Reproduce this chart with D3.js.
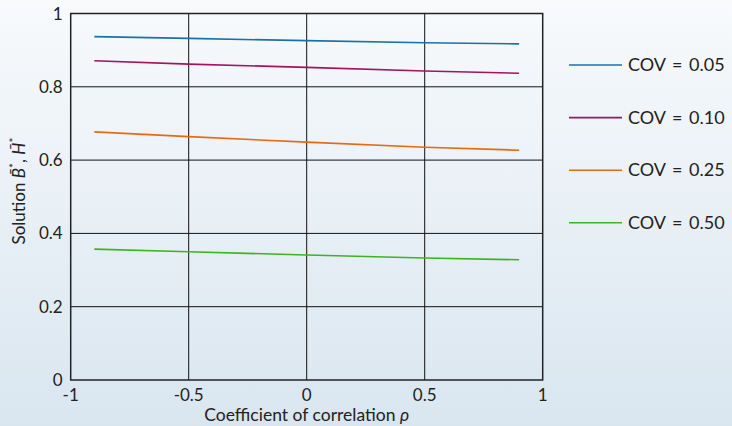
<!DOCTYPE html>
<html>
<head>
<meta charset="utf-8">
<script src="https://cdn.jsdelivr.net/npm/d3@7"></script>
<style>
  body { margin: 0; }
  svg text { font-family: Lato, "DejaVu Sans", sans-serif; fill: #222; }
</style>
</head>
<body>
<div id="chart"></div>
<script>
// Data
var rho = [-0.9, -0.5, 0, 0.5, 0.9];
var cov005 = [0.937, 0.932, 0.926, 0.920, 0.917];
var cov010 = [0.871, 0.862, 0.853, 0.843, 0.837];
var cov025 = [0.677, 0.664, 0.649, 0.635, 0.627];
var cov050 = [0.357, 0.350, 0.341, 0.333, 0.328];
var seriesNames = ["COV = 0.05", "COV = 0.10", "COV = 0.25", "COV = 0.50"];
var seriesColors = ["#1c70a8", "#a3135f", "#e8690e", "#3db41f"];
var xTicks = [-1, -0.5, 0, 0.5, 1];
var yTicks = [0, 0.2, 0.4, 0.6, 0.8, 1];

var svgWidth = 732;
var svgHeight = 426;
var margin = { top: 13.5, left: 70.7, right: 190, bottom: 46 };
var chartWidth = 542.7 - margin.left;
var chartHeight = 380 - margin.top;

var svg = d3.select("#chart")
    .append("svg")
    .attr("width", svgWidth)
    .attr("height", svgHeight);

// Background gradient
var grad = svg.append("defs").append("linearGradient")
    .attr("id", "bg")
    .attr("x1", 0).attr("y1", 0).attr("x2", 0).attr("y2", 1);
grad.append("stop").attr("offset", "0%").attr("stop-color", "#f8fafc");
grad.append("stop").attr("offset", "100%").attr("stop-color", "#d9e6f0");
svg.append("rect")
    .attr("width", svgWidth)
    .attr("height", svgHeight)
    .attr("fill", "url(#bg)");

var chartGroup = svg.append("g")
    .attr("transform", `translate(${margin.left}, ${margin.top})`);

var xScale = d3.scaleLinear().domain([-1, 1]).range([0, chartWidth]);
var yScale = d3.scaleLinear().domain([0, 1]).range([chartHeight, 0]);

// Grid lines
chartGroup.append("g")
    .selectAll("line")
    .data(xTicks.slice(1, -1))
    .enter()
    .append("line")
    .attr("x1", d => xScale(d)).attr("x2", d => xScale(d))
    .attr("y1", 0).attr("y2", chartHeight)
    .attr("stroke", "#111").attr("stroke-width", 1);

chartGroup.append("g")
    .selectAll("line")
    .data(yTicks.slice(1, -1))
    .enter()
    .append("line")
    .attr("y1", d => yScale(d)).attr("y2", d => yScale(d))
    .attr("x1", 0).attr("x2", chartWidth)
    .attr("stroke", "#111").attr("stroke-width", 1);

// Lines
var allSeries = [cov005, cov010, cov025, cov050];
var line = d3.line()
    .x((d, i) => xScale(rho[i]))
    .y(d => yScale(d));

chartGroup.selectAll(".series")
    .data(allSeries)
    .enter()
    .append("path")
    .attr("class", "series")
    .attr("d", d => line(d))
    .attr("fill", "none")
    .attr("stroke", (d, i) => seriesColors[i])
    .attr("stroke-width", 1.6);

// Frame
chartGroup.append("rect")
    .attr("width", chartWidth)
    .attr("height", chartHeight)
    .attr("fill", "none")
    .attr("stroke", "#222")
    .attr("stroke-width", 1.5);

// Tick labels
chartGroup.append("g")
    .selectAll("text")
    .data(xTicks)
    .enter()
    .append("text")
    .attr("x", d => xScale(d))
    .attr("y", chartHeight + 21)
    .attr("text-anchor", "middle")
    .attr("font-size", 17)
    .text(d => d);

chartGroup.append("g")
    .selectAll("text")
    .data(yTicks)
    .enter()
    .append("text")
    .attr("x", -8)
    .attr("y", d => yScale(d) + 6)
    .attr("text-anchor", "end")
    .attr("font-size", 17)
    .text(d => d);

// Axis labels
var xLabel = chartGroup.append("text")
    .attr("x", chartWidth / 2)
    .attr("y", chartHeight + 41)
    .attr("text-anchor", "middle")
    .attr("font-size", 17.5);
xLabel.append("tspan").text("Coefficient of correlation ");
xLabel.append("tspan").attr("font-style", "italic").text("ρ");

var yLabel = svg.append("text")
    .attr("transform", "translate(25, 191) rotate(-90)")
    .attr("text-anchor", "middle")
    .attr("font-size", 17);
yLabel.append("tspan").text("Solution ");
yLabel.append("tspan").attr("font-style", "italic").text("B\u0304");
yLabel.append("tspan").attr("dy", -7).attr("font-size", 12).text("*");
yLabel.append("tspan").attr("dy", 7).text(", ");
yLabel.append("tspan").attr("font-style", "italic").text("H\u0304");
yLabel.append("tspan").attr("dy", -7).attr("font-size", 12).text("*");

// Legend
var legend = svg.append("g").attr("transform", "translate(569, 65)");
var legendRows = legend.selectAll("g")
    .data(seriesNames)
    .enter()
    .append("g")
    .attr("transform", (d, i) => `translate(0, ${i * 52.6})`);
legendRows.append("line")
    .attr("x1", 0).attr("x2", 53)
    .attr("stroke", (d, i) => seriesColors[i])
    .attr("stroke-width", 1.6);
legendRows.append("text")
    .attr("x", 59)
    .attr("y", 6)
    .attr("font-size", 18)
    .attr("word-spacing", 2)
    .text(d => d);
</script>
</body>
</html>
